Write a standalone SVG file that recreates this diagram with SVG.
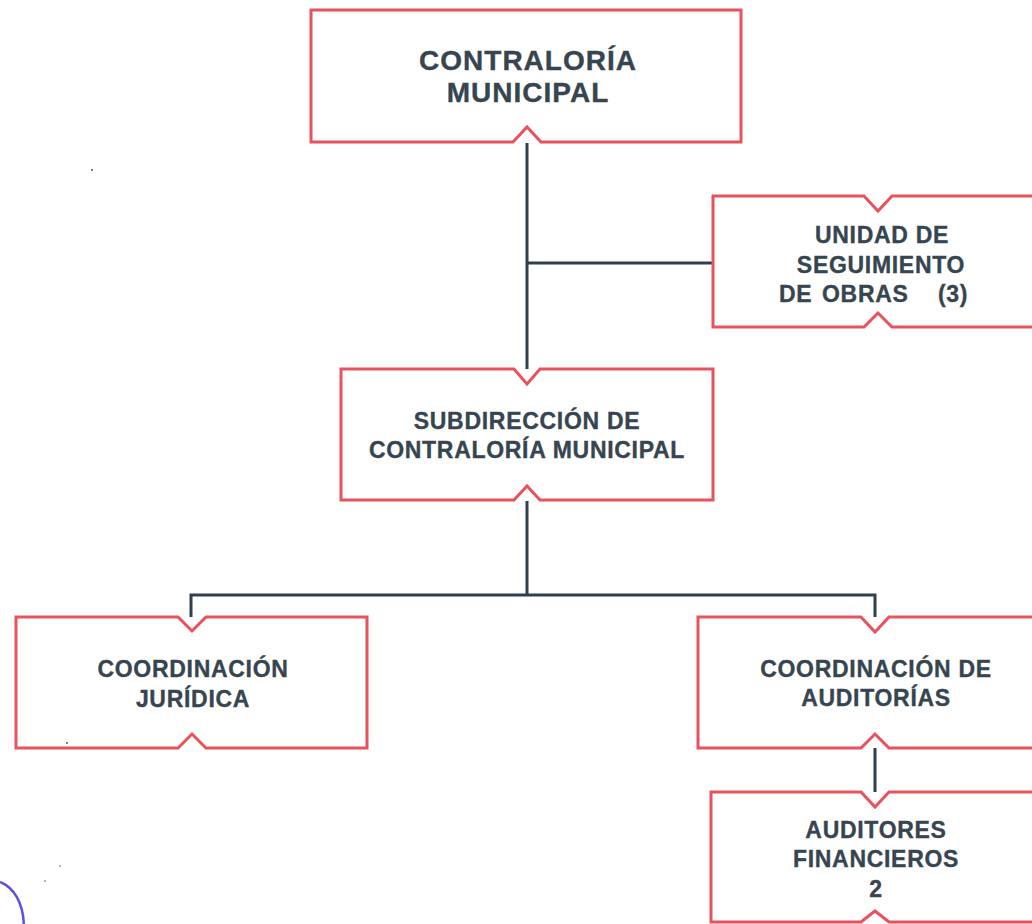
<svg xmlns="http://www.w3.org/2000/svg" width="1032" height="924" viewBox="0 0 1032 924">
<style>
.box{fill:#ffffff;stroke:#e8525c;stroke-width:3;stroke-linejoin:miter}
.conn{fill:none;stroke:#2f3f4d;stroke-width:3}
.t{font-family:"Liberation Sans",Arial,sans-serif;font-weight:bold;fill:#36454f;stroke:#36454f;stroke-width:0.35;text-anchor:middle;font-size:23px;letter-spacing:0.7px}
.s{text-anchor:start}
.big{font-size:28px;letter-spacing:1px}
</style>
<rect width="1032" height="924" fill="#ffffff"/>
<g id="connectors">
<path class="conn" d="M527,143 V369"/>
<path class="conn" d="M527,263 H713"/>
<path class="conn" d="M527,501 V595"/>
<path class="conn" d="M191,617 V595 H875 V617"/>
<path class="conn" d="M875,748 V792"/>
</g>
<g id="contraloria">
<path class="box" d="M311,10 H741 V142 H541 L527,127 L513,142 H311 Z"/>
<text class="t big" x="528" y="70">CONTRALORÍA</text>
<text class="t big" x="528" y="102">MUNICIPAL</text>
</g>
<g id="unidad">
<path class="box" d="M713,196 H864 L878,211 L892,196 H1040 V327 H892 L878,313 L864,327 H713 Z"/>
<text class="t" x="882" y="243">UNIDAD DE</text>
<text class="t" x="881" y="273">SEGUIMIENTO</text>
<text class="t s" x="779" y="302">DE</text>
<text class="t s" x="822" y="302">OBRAS</text>
<text class="t s" x="938" y="302">(3)</text>
</g>
<g id="subdireccion">
<path class="box" d="M341,369 H514 L527,384 L540,369 H713 V500 H540 L527,486 L514,500 H341 Z"/>
<text class="t" x="527" y="429">SUBDIRECCIÓN DE</text>
<text class="t" x="527" y="458">CONTRALORÍA MUNICIPAL</text>
</g>
<g id="juridica">
<path class="box" d="M16,617 H178 L192,631 L206,617 H367 V748 H206 L192,734 L178,748 H16 Z"/>
<text class="t" x="193" y="677">COORDINACIÓN</text>
<text class="t" x="193" y="707">JURÍDICA</text>
</g>
<g id="auditorias">
<path class="box" d="M698,617 H861 L875,632 L889,617 H1040 V748 H889 L875,734 L861,748 H698 Z"/>
<text class="t" x="876" y="677">COORDINACIÓN DE</text>
<text class="t" x="876" y="706">AUDITORÍAS</text>
</g>
<g id="auditores">
<path class="box" d="M711,792 H861 L875,807 L889,792 H1040 V922 H889 L875,911 L861,922 H711 Z"/>
<text class="t" x="876" y="838">AUDITORES</text>
<text class="t" x="876" y="867">FINANCIEROS</text>
<text class="t" x="876" y="897">2</text>
</g>
<path d="M0,882 C14,888 23,903 24,926" fill="none" stroke="#5a4fe0" stroke-width="2.5"/>
<g fill="#555">
<circle cx="92" cy="170" r="1"/>
<circle cx="67" cy="743" r="1"/>
<circle cx="60" cy="866" r="0.8"/>
<circle cx="45" cy="881" r="0.8"/>
</g>
</svg>
